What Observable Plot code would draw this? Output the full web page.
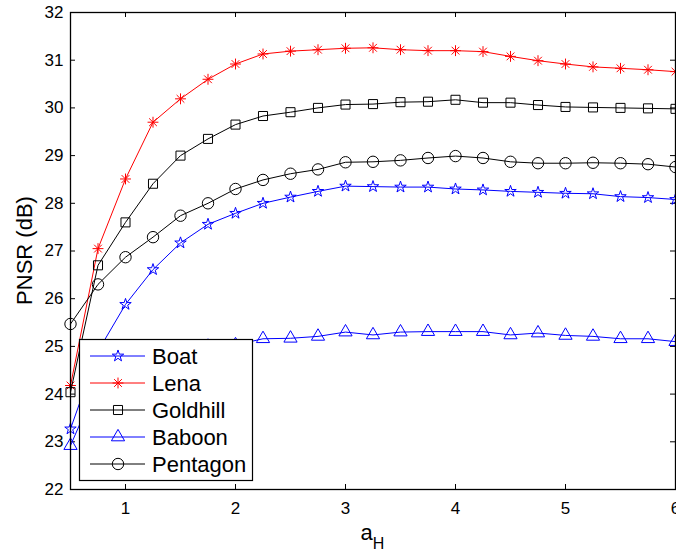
<!DOCTYPE html>
<html>
<head>
<meta charset="utf-8">
<script src="https://cdn.jsdelivr.net/npm/d3@7"></script>
<script src="https://cdn.jsdelivr.net/npm/@observablehq/plot@0.6"></script>
<style>
  body { margin: 0; background: #fff; }
  #chart svg { display: block; overflow: visible; }
</style>
</head>
<body>
<div id="chart"></div>
<script>
// Sweep of the parameter a_H and the resulting PNSR (dB) for each test image
const aH = [0.5, 0.75, 1, 1.25, 1.5, 1.75, 2, 2.25, 2.5, 2.75, 3, 3.25, 3.5, 3.75, 4, 4.25, 4.5, 4.75, 5, 5.25, 5.5, 5.75, 6];

const boat     = [23.27, 24.90, 25.88, 26.61, 27.17, 27.56, 27.79, 28.00, 28.13, 28.25, 28.36, 28.35, 28.34, 28.34, 28.30, 28.28, 28.25, 28.23, 28.21, 28.20, 28.14, 28.12, 28.08];
const lena     = [24.18, 27.05, 28.51, 29.70, 30.19, 30.60, 30.92, 31.13, 31.19, 31.22, 31.25, 31.26, 31.22, 31.20, 31.20, 31.18, 31.08, 30.99, 30.92, 30.86, 30.83, 30.80, 30.76];
const goldhill = [24.04, 26.70, 27.60, 28.41, 29.00, 29.35, 29.65, 29.83, 29.91, 30.00, 30.07, 30.08, 30.12, 30.13, 30.17, 30.11, 30.11, 30.06, 30.02, 30.01, 30.00, 29.99, 29.98];
const baboon   = [22.92, 24.25, 24.65, 24.85, 24.95, 25.00, 25.03, 25.16, 25.17, 25.21, 25.30, 25.24, 25.30, 25.31, 25.31, 25.31, 25.24, 25.28, 25.23, 25.21, 25.16, 25.16, 25.10];
const pentagon = [25.47, 26.30, 26.87, 27.29, 27.74, 28.00, 28.30, 28.49, 28.62, 28.71, 28.86, 28.87, 28.90, 28.95, 28.99, 28.95, 28.87, 28.84, 28.84, 28.85, 28.84, 28.82, 28.76];

const seriesNames  = ["Boat", "Lena", "Goldhill", "Baboon", "Pentagon"];
const seriesValues = [boat, lena, goldhill, baboon, pentagon];
const seriesColors = ["#0000ff", "#ff0000", "#000000", "#0000ff", "#000000"];
// "asterisk8" is drawn as a plus overlaid with a times symbol
const seriesSymbols = ["star", "asterisk8", "square", "triangle", "circle"];
const seriesRadius  = [3.6, 3.6, 5.1, 4.9, 5.7];

const xTicks = [1, 2, 3, 4, 5, 6];
const yTicks = [22, 23, 24, 25, 26, 27, 28, 29, 30, 31, 32];

const W = 676, H = 557;
const mL = 70, mR = 1, mT = 12, mB = 68;
const innerW = W - mL - mR, innerH = H - mT - mB;
const tickLen = 5;
const fontFamily = "'Liberation Sans', Arial, Helvetica, sans-serif";

const rows = seriesNames.flatMap((name, i) =>
  aH.map((x, j) => ({series: name, x, y: seriesValues[i][j]}))
);

const seriesMarks = seriesNames.flatMap((name, i) => {
  const data = rows.filter(d => d.series === name);
  const color = seriesColors[i];
  const r = seriesRadius[i];
  const marks = [Plot.line(data, {x: "x", y: "y", stroke: color, strokeWidth: 1})];
  if (seriesSymbols[i] === "asterisk8") {
    marks.push(Plot.dot(data, {x: "x", y: "y", symbol: "plus", r, stroke: color, fill: "none", strokeWidth: 1}));
    marks.push(Plot.dot(data, {x: "x", y: "y", symbol: "times", r, stroke: color, fill: "none", strokeWidth: 1}));
  } else {
    marks.push(Plot.dot(data, {x: "x", y: "y", symbol: seriesSymbols[i], r, stroke: color, fill: "none", strokeWidth: 1}));
  }
  return marks;
});

const plot = Plot.plot({
  width: W,
  height: H,
  marginLeft: mL,
  marginRight: mR,
  marginTop: mT,
  marginBottom: mB,
  style: {fontFamily, fontSize: "17px", color: "#000", background: "#fff"},
  x: {domain: [0.5, 6]},
  y: {domain: [22, 32]},
  marks: [
    // inward ticks on all four sides
    Plot.tickX(xTicks, {x: d => d, insetTop: innerH - tickLen, stroke: "#000"}),
    Plot.tickX(xTicks, {x: d => d, insetBottom: innerH - tickLen, stroke: "#000"}),
    Plot.tickY(yTicks, {y: d => d, insetRight: innerW - tickLen, stroke: "#000"}),
    Plot.tickY(yTicks, {y: d => d, insetLeft: innerW - tickLen, stroke: "#000"}),
    Plot.axisX(xTicks, {tickSize: 0, tickPadding: 12, label: null, fontSize: 17}),
    Plot.axisY(yTicks, {tickSize: 0, tickPadding: 7, label: null, fontSize: 17}),
    ...seriesMarks,
    Plot.frame({stroke: "#000", strokeWidth: 1.3})
  ]
});

const svg = d3.select(plot);

// axis titles
svg.append("text")
  .attr("transform", `translate(32,${mT + innerH / 2}) rotate(-90)`)
  .attr("text-anchor", "middle")
  .attr("font-family", fontFamily)
  .attr("font-size", 22)
  .attr("fill", "#000")
  .text("PNSR (dB)");

const xt = svg.append("text")
  .attr("x", mL + innerW / 2)
  .attr("y", 540)
  .attr("text-anchor", "middle")
  .attr("font-family", fontFamily)
  .attr("font-size", 22)
  .attr("fill", "#000");
xt.append("tspan").text("a");
xt.append("tspan").attr("font-size", 16).attr("dy", 9).text("H");

// legend box
const lg = svg.append("g").attr("font-family", fontFamily).attr("text-anchor", "start");
lg.append("rect")
  .attr("x", 79.5).attr("y", 339.5)
  .attr("width", 173).attr("height", 141)
  .attr("fill", "#fff").attr("stroke", "#000").attr("stroke-width", 1.2);

const d3Symbols = {
  star: d3.symbolStar, square: d3.symbolSquare, triangle: d3.symbolTriangle,
  circle: d3.symbolCircle, plus: d3.symbolPlus, times: d3.symbolTimes
};

seriesNames.forEach((name, i) => {
  const cy = 356 + 27 * i;
  const color = seriesColors[i];
  const size = Math.PI * seriesRadius[i] ** 2;
  lg.append("line")
    .attr("x1", 90).attr("x2", 145).attr("y1", cy).attr("y2", cy)
    .attr("stroke", color).attr("stroke-width", 1);
  const types = seriesSymbols[i] === "asterisk8" ? ["plus", "times"] : [seriesSymbols[i]];
  types.forEach(t => {
    lg.append("path")
      .attr("transform", `translate(118,${cy})`)
      .attr("d", d3.symbol(d3Symbols[t], size)())
      .attr("fill", "none").attr("stroke", color).attr("stroke-width", 1);
  });
  lg.append("text")
    .attr("x", 152).attr("y", cy)
    .attr("dy", "0.35em")
    .attr("text-anchor", "start")
    .attr("font-size", 22)
    .attr("fill", "#000")
    .text(name);
});

document.getElementById("chart").appendChild(plot);
</script>
</body>
</html>
